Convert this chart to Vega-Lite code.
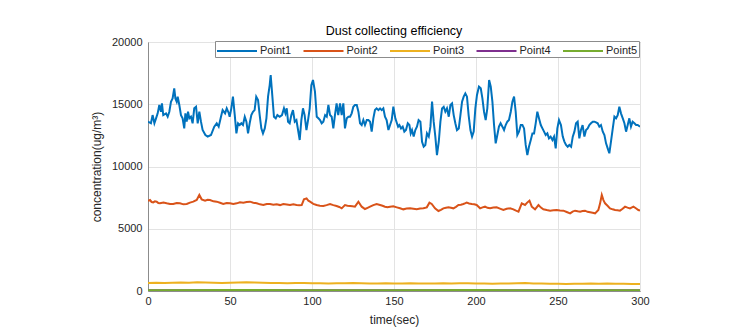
{
"$schema": "https://vega.github.io/schema/vega-lite/v6.json",
"width": 492, "height": 249,
"autosize": {"type": "none"},
"padding": {"left": 148, "top": 42, "right": 92, "bottom": 42},
"background": "white",
"title": {"text": "Dust collecting efficiency", "fontSize": 12.5, "fontWeight": "normal", "font": "Liberation Sans", "color": "#000000", "offset": -1, "anchor": "middle"},
"config": {
  "font": "Liberation Sans",
  "view": {"stroke": "#8c8c8c", "strokeWidth": 1},
  "axis": {"labelFont": "Liberation Sans", "titleFont": "Liberation Sans", "labelFontSize": 11, "titleFontSize": 12, "titleFontWeight": "normal", "labelColor": "#262626", "titleColor": "#262626", "gridColor": "#e3e3e3", "domainColor": "#8c8c8c", "tickColor": "#8c8c8c", "tickSize": 3, "ticks": false}
},
"data": {"values": [
{"s":"Point1","t":0,"v":13600},{"s":"Point1","t":1.8,"v":13470},{"s":"Point1","t":2.8,"v":14130},{"s":"Point1","t":3.9,"v":13470},{"s":"Point1","t":4.9,"v":13870},{"s":"Point1","t":5.9,"v":14270},{"s":"Point1","t":6.9,"v":14940},{"s":"Point1","t":7.9,"v":14400},{"s":"Point1","t":8.5,"v":15070},{"s":"Point1","t":9.3,"v":14130},{"s":"Point1","t":11,"v":14270},{"s":"Point1","t":12,"v":14000},{"s":"Point1","t":13,"v":14400},{"s":"Point1","t":14,"v":15200},{"s":"Point1","t":15,"v":15470},{"s":"Point1","t":16,"v":16280},{"s":"Point1","t":16.7,"v":15470},{"s":"Point1","t":17.5,"v":15200},{"s":"Point1","t":18.1,"v":15600},{"s":"Point1","t":19.1,"v":14940},{"s":"Point1","t":20.1,"v":14130},{"s":"Point1","t":21.1,"v":13870},{"s":"Point1","t":22.1,"v":13060},{"s":"Point1","t":22.8,"v":14270},{"s":"Point1","t":23.6,"v":13600},{"s":"Point1","t":24.4,"v":14400},{"s":"Point1","t":25.2,"v":13870},{"s":"Point1","t":26.2,"v":14000},{"s":"Point1","t":27.2,"v":13470},{"s":"Point1","t":28.2,"v":14670},{"s":"Point1","t":29.3,"v":14800},{"s":"Point1","t":30.3,"v":13470},{"s":"Point1","t":31.3,"v":14400},{"s":"Point1","t":32.3,"v":13600},{"s":"Point1","t":33.3,"v":12930},{"s":"Point1","t":35,"v":12530},{"s":"Point1","t":36.4,"v":12400},{"s":"Point1","t":38.4,"v":12530},{"s":"Point1","t":40.4,"v":13200},{"s":"Point1","t":41.9,"v":13470},{"s":"Point1","t":43.1,"v":13200},{"s":"Point1","t":44.5,"v":14000},{"s":"Point1","t":45.5,"v":14530},{"s":"Point1","t":47,"v":14270},{"s":"Point1","t":48,"v":14670},{"s":"Point1","t":49.2,"v":14300},{"s":"Point1","t":49.8,"v":14000},{"s":"Point1","t":50.8,"v":14670},{"s":"Point1","t":51.8,"v":15610},{"s":"Point1","t":52.9,"v":14130},{"s":"Point1","t":53.9,"v":12660},{"s":"Point1","t":54.9,"v":13470},{"s":"Point1","t":55.9,"v":13330},{"s":"Point1","t":56.9,"v":13470},{"s":"Point1","t":57.9,"v":13330},{"s":"Point1","t":59,"v":14000},{"s":"Point1","t":60,"v":13600},{"s":"Point1","t":61,"v":12660},{"s":"Point1","t":62,"v":13470},{"s":"Point1","t":63,"v":14130},{"s":"Point1","t":64,"v":14400},{"s":"Point1","t":65,"v":14530},{"s":"Point1","t":66,"v":15610},{"s":"Point1","t":67.1,"v":15340},{"s":"Point1","t":68.1,"v":14130},{"s":"Point1","t":69.1,"v":13060},{"s":"Point1","t":70.1,"v":12660},{"s":"Point1","t":71.2,"v":13060},{"s":"Point1","t":72.2,"v":13870},{"s":"Point1","t":73.2,"v":15610},{"s":"Point1","t":74.2,"v":16540},{"s":"Point1","t":74.8,"v":17350},{"s":"Point1","t":75.6,"v":16010},{"s":"Point1","t":76.8,"v":14000},{"s":"Point1","t":77.9,"v":13870},{"s":"Point1","t":78.9,"v":14130},{"s":"Point1","t":80.3,"v":14000},{"s":"Point1","t":81.7,"v":14130},{"s":"Point1","t":82.9,"v":14670},{"s":"Point1","t":83.8,"v":14270},{"s":"Point1","t":84.6,"v":14670},{"s":"Point1","t":85.4,"v":13600},{"s":"Point1","t":86.4,"v":13470},{"s":"Point1","t":87.4,"v":14130},{"s":"Point1","t":88.4,"v":14530},{"s":"Point1","t":89.5,"v":13600},{"s":"Point1","t":90.5,"v":13730},{"s":"Point1","t":91.5,"v":12930},{"s":"Point1","t":92.5,"v":12130},{"s":"Point1","t":93.5,"v":13730},{"s":"Point1","t":94.5,"v":14670},{"s":"Point1","t":95.5,"v":14130},{"s":"Point1","t":96.6,"v":12930},{"s":"Point1","t":97.6,"v":13730},{"s":"Point1","t":98.6,"v":14670},{"s":"Point1","t":99.6,"v":16540},{"s":"Point1","t":100.6,"v":16950},{"s":"Point1","t":101.8,"v":16010},{"s":"Point1","t":102.9,"v":14000},{"s":"Point1","t":103.9,"v":13870},{"s":"Point1","t":104.9,"v":13730},{"s":"Point1","t":105.9,"v":13470},{"s":"Point1","t":106.9,"v":13600},{"s":"Point1","t":108,"v":14130},{"s":"Point1","t":109,"v":14000},{"s":"Point1","t":110,"v":14940},{"s":"Point1","t":111,"v":14130},{"s":"Point1","t":112,"v":14000},{"s":"Point1","t":113,"v":13060},{"s":"Point1","t":114,"v":14130},{"s":"Point1","t":115,"v":15070},{"s":"Point1","t":116,"v":14130},{"s":"Point1","t":117.1,"v":15070},{"s":"Point1","t":118.1,"v":14130},{"s":"Point1","t":119.1,"v":15070},{"s":"Point1","t":120.1,"v":13060},{"s":"Point1","t":121.2,"v":13870},{"s":"Point1","t":122.2,"v":14000},{"s":"Point1","t":123.2,"v":14000},{"s":"Point1","t":124.2,"v":14270},{"s":"Point1","t":125.2,"v":14800},{"s":"Point1","t":126.2,"v":14940},{"s":"Point1","t":127.3,"v":14940},{"s":"Point1","t":128.3,"v":14400},{"s":"Point1","t":129.3,"v":13470},{"s":"Point1","t":130.3,"v":13330},{"s":"Point1","t":131.3,"v":13730},{"s":"Point1","t":132.3,"v":13330},{"s":"Point1","t":133.4,"v":13730},{"s":"Point1","t":134.4,"v":13730},{"s":"Point1","t":135.4,"v":13600},{"s":"Point1","t":136.4,"v":12800},{"s":"Point1","t":137.4,"v":13870},{"s":"Point1","t":138.4,"v":14530},{"s":"Point1","t":139.4,"v":14670},{"s":"Point1","t":140.5,"v":14530},{"s":"Point1","t":141.5,"v":14670},{"s":"Point1","t":142.5,"v":14530},{"s":"Point1","t":143.5,"v":14670},{"s":"Point1","t":144.5,"v":14000},{"s":"Point1","t":145.5,"v":13730},{"s":"Point1","t":146.6,"v":12930},{"s":"Point1","t":147.6,"v":13330},{"s":"Point1","t":148.6,"v":13730},{"s":"Point1","t":149.6,"v":14800},{"s":"Point1","t":150.8,"v":13870},{"s":"Point1","t":151.8,"v":13470},{"s":"Point1","t":152.5,"v":13200},{"s":"Point1","t":153.3,"v":13330},{"s":"Point1","t":154.3,"v":13060},{"s":"Point1","t":155.3,"v":13200},{"s":"Point1","t":156.3,"v":12800},{"s":"Point1","t":157.3,"v":12930},{"s":"Point1","t":158.4,"v":13470},{"s":"Point1","t":159.4,"v":13330},{"s":"Point1","t":160.2,"v":12660},{"s":"Point1","t":161,"v":12930},{"s":"Point1","t":162,"v":12400},{"s":"Point1","t":163,"v":12930},{"s":"Point1","t":164,"v":13200},{"s":"Point1","t":165,"v":13730},{"s":"Point1","t":166.1,"v":13600},{"s":"Point1","t":167.1,"v":11990},{"s":"Point1","t":168.1,"v":11590},{"s":"Point1","t":169.1,"v":11730},{"s":"Point1","t":170.1,"v":12660},{"s":"Point1","t":171.2,"v":12400},{"s":"Point1","t":172.2,"v":13200},{"s":"Point1","t":173.2,"v":15210},{"s":"Point1","t":174.2,"v":13600},{"s":"Point1","t":175.2,"v":12400},{"s":"Point1","t":176.2,"v":10920},{"s":"Point1","t":177.3,"v":11990},{"s":"Point1","t":178.3,"v":13600},{"s":"Point1","t":179.3,"v":14670},{"s":"Point1","t":180.3,"v":14800},{"s":"Point1","t":181.3,"v":14400},{"s":"Point1","t":182.3,"v":14670},{"s":"Point1","t":183.4,"v":14000},{"s":"Point1","t":184.4,"v":14940},{"s":"Point1","t":185.4,"v":15070},{"s":"Point1","t":186.4,"v":14130},{"s":"Point1","t":187.4,"v":13470},{"s":"Point1","t":188.4,"v":12930},{"s":"Point1","t":189.5,"v":13060},{"s":"Point1","t":190.5,"v":14130},{"s":"Point1","t":191.5,"v":15210},{"s":"Point1","t":192.5,"v":15610},{"s":"Point1","t":193.5,"v":15870},{"s":"Point1","t":194.5,"v":15610},{"s":"Point1","t":195.5,"v":14130},{"s":"Point1","t":196.6,"v":12930},{"s":"Point1","t":197.6,"v":12400},{"s":"Point1","t":198.6,"v":12800},{"s":"Point1","t":199.6,"v":14670},{"s":"Point1","t":200.6,"v":15750},{"s":"Point1","t":201.8,"v":16410},{"s":"Point1","t":202.9,"v":16280},{"s":"Point1","t":203.9,"v":15470},{"s":"Point1","t":204.9,"v":14400},{"s":"Point1","t":205.9,"v":13730},{"s":"Point1","t":206.9,"v":14670},{"s":"Point1","t":208,"v":16950},{"s":"Point1","t":209,"v":16410},{"s":"Point1","t":210,"v":15210},{"s":"Point1","t":211,"v":13330},{"s":"Point1","t":212,"v":11860},{"s":"Point1","t":213,"v":12530},{"s":"Point1","t":214,"v":13200},{"s":"Point1","t":215,"v":13470},{"s":"Point1","t":216.1,"v":13200},{"s":"Point1","t":217.1,"v":12930},{"s":"Point1","t":218.1,"v":13330},{"s":"Point1","t":219.1,"v":13600},{"s":"Point1","t":220.1,"v":13730},{"s":"Point1","t":221.2,"v":14400},{"s":"Point1","t":222.2,"v":15210},{"s":"Point1","t":223.2,"v":15610},{"s":"Point1","t":224.2,"v":14400},{"s":"Point1","t":225.2,"v":12530},{"s":"Point1","t":226.2,"v":12800},{"s":"Point1","t":227.3,"v":13330},{"s":"Point1","t":228.3,"v":13330},{"s":"Point1","t":229.3,"v":13060},{"s":"Point1","t":230.3,"v":11730},{"s":"Point1","t":231.3,"v":10920},{"s":"Point1","t":232.3,"v":11590},{"s":"Point1","t":233.4,"v":12130},{"s":"Point1","t":234.4,"v":12660},{"s":"Point1","t":235.4,"v":12660},{"s":"Point1","t":236.4,"v":13470},{"s":"Point1","t":237.4,"v":14400},{"s":"Point1","t":238.4,"v":13870},{"s":"Point1","t":239.5,"v":13330},{"s":"Point1","t":240.5,"v":13060},{"s":"Point1","t":241.5,"v":12800},{"s":"Point1","t":242.5,"v":12530},{"s":"Point1","t":243.5,"v":12660},{"s":"Point1","t":244.5,"v":12260},{"s":"Point1","t":245.5,"v":12400},{"s":"Point1","t":246.6,"v":12130},{"s":"Point1","t":247.6,"v":12400},{"s":"Point1","t":248.6,"v":11460},{"s":"Point1","t":249.6,"v":13060},{"s":"Point1","t":250.6,"v":13730},{"s":"Point1","t":251.8,"v":13330},{"s":"Point1","t":252.9,"v":12400},{"s":"Point1","t":253.9,"v":12000},{"s":"Point1","t":254.9,"v":11730},{"s":"Point1","t":255.9,"v":11590},{"s":"Point1","t":256.9,"v":11730},{"s":"Point1","t":258,"v":11590},{"s":"Point1","t":259,"v":12400},{"s":"Point1","t":260,"v":12800},{"s":"Point1","t":261,"v":13470},{"s":"Point1","t":262,"v":13600},{"s":"Point1","t":263,"v":12260},{"s":"Point1","t":264,"v":12930},{"s":"Point1","t":265,"v":13330},{"s":"Point1","t":266.1,"v":12400},{"s":"Point1","t":267.1,"v":12930},{"s":"Point1","t":268.1,"v":13060},{"s":"Point1","t":269.1,"v":13330},{"s":"Point1","t":270.1,"v":13470},{"s":"Point1","t":271.2,"v":13600},{"s":"Point1","t":272.2,"v":13600},{"s":"Point1","t":273.2,"v":13550},{"s":"Point1","t":274.2,"v":13470},{"s":"Point1","t":275.2,"v":13200},{"s":"Point1","t":276.2,"v":13330},{"s":"Point1","t":277.3,"v":12800},{"s":"Point1","t":278.3,"v":12530},{"s":"Point1","t":279.3,"v":11860},{"s":"Point1","t":280.3,"v":11460},{"s":"Point1","t":281.3,"v":11060},{"s":"Point1","t":282.3,"v":12000},{"s":"Point1","t":283.4,"v":13060},{"s":"Point1","t":284.4,"v":14000},{"s":"Point1","t":285.4,"v":13870},{"s":"Point1","t":286.4,"v":14130},{"s":"Point1","t":287.4,"v":14800},{"s":"Point1","t":288.4,"v":14270},{"s":"Point1","t":289.5,"v":13870},{"s":"Point1","t":290.5,"v":13470},{"s":"Point1","t":291.5,"v":12800},{"s":"Point1","t":292.5,"v":13330},{"s":"Point1","t":293.5,"v":13870},{"s":"Point1","t":294.5,"v":13200},{"s":"Point1","t":295.5,"v":13600},{"s":"Point1","t":296.6,"v":13470},{"s":"Point1","t":297.6,"v":13330},{"s":"Point1","t":298.6,"v":13330},{"s":"Point1","t":300,"v":13200},
{"s":"Point2","t":0,"v":7250},{"s":"Point2","t":1.2,"v":7310},{"s":"Point2","t":2.2,"v":7150},{"s":"Point2","t":3.2,"v":7120},{"s":"Point2","t":4.2,"v":7200},{"s":"Point2","t":5.3,"v":7175},{"s":"Point2","t":6.3,"v":7060},{"s":"Point2","t":7.3,"v":7041},{"s":"Point2","t":9.4,"v":7100},{"s":"Point2","t":11.4,"v":7041},{"s":"Point2","t":13.4,"v":6990},{"s":"Point2","t":15.4,"v":6988},{"s":"Point2","t":17.5,"v":7060},{"s":"Point2","t":19.5,"v":7041},{"s":"Point2","t":21.6,"v":6960},{"s":"Point2","t":23.6,"v":6988},{"s":"Point2","t":25.6,"v":7100},{"s":"Point2","t":27.6,"v":7175},{"s":"Point2","t":29.7,"v":7309},{"s":"Point2","t":31.3,"v":7710},{"s":"Point2","t":32.7,"v":7362},{"s":"Point2","t":34.8,"v":7255},{"s":"Point2","t":36.3,"v":7330},{"s":"Point2","t":37.8,"v":7309},{"s":"Point2","t":39.9,"v":7200},{"s":"Point2","t":41.9,"v":7175},{"s":"Point2","t":43.9,"v":7090},{"s":"Point2","t":45.9,"v":6988},{"s":"Point2","t":48,"v":7060},{"s":"Point2","t":50,"v":7041},{"s":"Point2","t":52,"v":6990},{"s":"Point2","t":54.1,"v":7041},{"s":"Point2","t":56.1,"v":7120},{"s":"Point2","t":58.1,"v":7095},{"s":"Point2","t":60.2,"v":7150},{"s":"Point2","t":62.2,"v":7175},{"s":"Point2","t":64.2,"v":7090},{"s":"Point2","t":66.3,"v":7041},{"s":"Point2","t":68.3,"v":6960},{"s":"Point2","t":70.3,"v":6907},{"s":"Point2","t":72.4,"v":6990},{"s":"Point2","t":74.4,"v":6988},{"s":"Point2","t":76.4,"v":6930},{"s":"Point2","t":78.5,"v":6961},{"s":"Point2","t":80.5,"v":6900},{"s":"Point2","t":82.5,"v":6988},{"s":"Point2","t":84.6,"v":6950},{"s":"Point2","t":86.6,"v":6907},{"s":"Point2","t":88.6,"v":6960},{"s":"Point2","t":90.6,"v":6907},{"s":"Point2","t":92.2,"v":6880},{"s":"Point2","t":93.7,"v":6907},{"s":"Point2","t":95.1,"v":7362},{"s":"Point2","t":96.7,"v":7443},{"s":"Point2","t":97.8,"v":7250},{"s":"Point2","t":98.8,"v":7175},{"s":"Point2","t":100.8,"v":7000},{"s":"Point2","t":102.8,"v":6907},{"s":"Point2","t":104.8,"v":6850},{"s":"Point2","t":106.9,"v":6827},{"s":"Point2","t":108.9,"v":6900},{"s":"Point2","t":111,"v":6988},{"s":"Point2","t":113,"v":6900},{"s":"Point2","t":115,"v":6827},{"s":"Point2","t":116.6,"v":6750},{"s":"Point2","t":118.1,"v":6640},{"s":"Point2","t":120.1,"v":6907},{"s":"Point2","t":121.6,"v":6850},{"s":"Point2","t":123.2,"v":6827},{"s":"Point2","t":124.7,"v":6800},{"s":"Point2","t":126.2,"v":6773},{"s":"Point2","t":128.3,"v":7175},{"s":"Point2","t":130.3,"v":6773},{"s":"Point2","t":132.3,"v":6586},{"s":"Point2","t":133.9,"v":6680},{"s":"Point2","t":135.4,"v":6773},{"s":"Point2","t":137.4,"v":6900},{"s":"Point2","t":139.4,"v":6988},{"s":"Point2","t":141.5,"v":6907},{"s":"Point2","t":143,"v":6850},{"s":"Point2","t":144.5,"v":6773},{"s":"Point2","t":146,"v":6720},{"s":"Point2","t":147.6,"v":6773},{"s":"Point2","t":149.6,"v":6800},{"s":"Point2","t":151.7,"v":6720},{"s":"Point2","t":153.7,"v":6650},{"s":"Point2","t":155.7,"v":6559},{"s":"Point2","t":157.7,"v":6620},{"s":"Point2","t":159.8,"v":6640},{"s":"Point2","t":161.8,"v":6600},{"s":"Point2","t":163.9,"v":6559},{"s":"Point2","t":165.9,"v":6620},{"s":"Point2","t":167.9,"v":6640},{"s":"Point2","t":170,"v":6720},{"s":"Point2","t":171.6,"v":7095},{"s":"Point2","t":173,"v":6988},{"s":"Point2","t":175,"v":6640},{"s":"Point2","t":177.1,"v":6425},{"s":"Point2","t":178.6,"v":6520},{"s":"Point2","t":180.1,"v":6640},{"s":"Point2","t":181.7,"v":6690},{"s":"Point2","t":183.2,"v":6720},{"s":"Point2","t":184.7,"v":6680},{"s":"Point2","t":186.2,"v":6640},{"s":"Point2","t":187.8,"v":6760},{"s":"Point2","t":189.3,"v":6907},{"s":"Point2","t":190.8,"v":6930},{"s":"Point2","t":192.3,"v":6988},{"s":"Point2","t":193.3,"v":7041},{"s":"Point2","t":194.3,"v":7095},{"s":"Point2","t":195.8,"v":7030},{"s":"Point2","t":197.4,"v":6988},{"s":"Point2","t":198.9,"v":6960},{"s":"Point2","t":200.4,"v":6907},{"s":"Point2","t":202.5,"v":6640},{"s":"Point2","t":204,"v":6720},{"s":"Point2","t":205.5,"v":6773},{"s":"Point2","t":207,"v":6680},{"s":"Point2","t":208.6,"v":6640},{"s":"Point2","t":210.6,"v":6700},{"s":"Point2","t":212.6,"v":6720},{"s":"Point2","t":214.6,"v":6620},{"s":"Point2","t":216.7,"v":6506},{"s":"Point2","t":218.7,"v":6600},{"s":"Point2","t":220.8,"v":6640},{"s":"Point2","t":222.8,"v":6560},{"s":"Point2","t":224.4,"v":6450},{"s":"Point2","t":225.9,"v":6372},{"s":"Point2","t":227.9,"v":7041},{"s":"Point2","t":229.9,"v":6907},{"s":"Point2","t":231.2,"v":7100},{"s":"Point2","t":232.6,"v":7255},{"s":"Point2","t":234,"v":6773},{"s":"Point2","t":236,"v":6559},{"s":"Point2","t":238.1,"v":6907},{"s":"Point2","t":239.6,"v":6700},{"s":"Point2","t":241.1,"v":6559},{"s":"Point2","t":243.1,"v":6500},{"s":"Point2","t":245.2,"v":6452},{"s":"Point2","t":247.2,"v":6480},{"s":"Point2","t":249.2,"v":6506},{"s":"Point2","t":251.2,"v":6470},{"s":"Point2","t":253.3,"v":6452},{"s":"Point2","t":255.3,"v":6350},{"s":"Point2","t":257.4,"v":6238},{"s":"Point2","t":258.9,"v":6380},{"s":"Point2","t":260.4,"v":6452},{"s":"Point2","t":262,"v":6400},{"s":"Point2","t":263.5,"v":6372},{"s":"Point2","t":265,"v":6420},{"s":"Point2","t":266.5,"v":6452},{"s":"Point2","t":268,"v":6360},{"s":"Point2","t":269.6,"v":6318},{"s":"Point2","t":271.1,"v":6280},{"s":"Point2","t":272.6,"v":6238},{"s":"Point2","t":274.6,"v":6506},{"s":"Point2","t":275.6,"v":7000},{"s":"Point2","t":276.7,"v":7710},{"s":"Point2","t":277.7,"v":7300},{"s":"Point2","t":278.7,"v":7041},{"s":"Point2","t":280.2,"v":6850},{"s":"Point2","t":281.7,"v":6640},{"s":"Point2","t":283.3,"v":6560},{"s":"Point2","t":284.8,"v":6506},{"s":"Point2","t":286.3,"v":6480},{"s":"Point2","t":287.8,"v":6452},{"s":"Point2","t":289.4,"v":6600},{"s":"Point2","t":290.9,"v":6773},{"s":"Point2","t":292.4,"v":6700},{"s":"Point2","t":293.9,"v":6640},{"s":"Point2","t":296,"v":6773},{"s":"Point2","t":297.5,"v":6650},{"s":"Point2","t":299,"v":6506},{"s":"Point2","t":300,"v":6450},
{"s":"Point3","t":0,"v":640},{"s":"Point3","t":5,"v":660},{"s":"Point3","t":10,"v":650},{"s":"Point3","t":15,"v":670},{"s":"Point3","t":20,"v":680},{"s":"Point3","t":25,"v":660},{"s":"Point3","t":30,"v":700},{"s":"Point3","t":35,"v":690},{"s":"Point3","t":40,"v":670},{"s":"Point3","t":45,"v":650},{"s":"Point3","t":50,"v":660},{"s":"Point3","t":55,"v":680},{"s":"Point3","t":60,"v":710},{"s":"Point3","t":65,"v":690},{"s":"Point3","t":70,"v":670},{"s":"Point3","t":75,"v":650},{"s":"Point3","t":80,"v":640},{"s":"Point3","t":85,"v":630},{"s":"Point3","t":90,"v":650},{"s":"Point3","t":95,"v":640},{"s":"Point3","t":100,"v":620},{"s":"Point3","t":105,"v":630},{"s":"Point3","t":110,"v":610},{"s":"Point3","t":115,"v":630},{"s":"Point3","t":120,"v":620},{"s":"Point3","t":125,"v":640},{"s":"Point3","t":130,"v":630},{"s":"Point3","t":135,"v":610},{"s":"Point3","t":140,"v":600},{"s":"Point3","t":145,"v":620},{"s":"Point3","t":150,"v":600},{"s":"Point3","t":155,"v":610},{"s":"Point3","t":160,"v":620},{"s":"Point3","t":165,"v":600},{"s":"Point3","t":170,"v":610},{"s":"Point3","t":175,"v":600},{"s":"Point3","t":180,"v":620},{"s":"Point3","t":185,"v":610},{"s":"Point3","t":190,"v":630},{"s":"Point3","t":195,"v":620},{"s":"Point3","t":200,"v":600},{"s":"Point3","t":205,"v":610},{"s":"Point3","t":210,"v":590},{"s":"Point3","t":215,"v":600},{"s":"Point3","t":220,"v":610},{"s":"Point3","t":225,"v":620},{"s":"Point3","t":230,"v":640},{"s":"Point3","t":235,"v":610},{"s":"Point3","t":240,"v":600},{"s":"Point3","t":245,"v":580},{"s":"Point3","t":250,"v":590},{"s":"Point3","t":255,"v":570},{"s":"Point3","t":260,"v":580},{"s":"Point3","t":265,"v":590},{"s":"Point3","t":270,"v":600},{"s":"Point3","t":275,"v":590},{"s":"Point3","t":280,"v":600},{"s":"Point3","t":285,"v":590},{"s":"Point3","t":290,"v":580},{"s":"Point3","t":295,"v":570},{"s":"Point3","t":300,"v":560},
{"s":"Point4","t":0,"v":60},{"s":"Point4","t":50,"v":62},{"s":"Point4","t":100,"v":58},{"s":"Point4","t":150,"v":60},{"s":"Point4","t":200,"v":61},{"s":"Point4","t":250,"v":59},{"s":"Point4","t":300,"v":60},
{"s":"Point5","t":0,"v":70},{"s":"Point5","t":50,"v":72},{"s":"Point5","t":100,"v":68},{"s":"Point5","t":150,"v":70},{"s":"Point5","t":200,"v":71},{"s":"Point5","t":250,"v":69},{"s":"Point5","t":300,"v":70}
]},
"mark": {"type": "line", "strokeWidth": 2, "clip": true},
"encoding": {
  "x": {"field": "t", "type": "quantitative", "title": "time(sec)", "scale": {"domain": [0, 300], "nice": false}, "axis": {"values": [0, 50, 100, 150, 200, 250, 300], "labelPadding": 4, "titlePadding": 8, "labelFlush": false}},
  "y": {"field": "v", "type": "quantitative", "title": "concentration(ug/m³)", "scale": {"domain": [0, 20000], "nice": false}, "axis": {"values": [0, 5000, 10000, 15000, 20000], "labelPadding": 6, "titlePadding": 8, "format": "d"}},
  "color": {"field": "s", "type": "nominal", "title": null,
    "scale": {"domain": ["Point1", "Point2", "Point3", "Point4", "Point5"], "range": ["#0072BD", "#D95319", "#EDB120", "#7E2F8E", "#77AC30"]},
    "legend": {"orient": "none", "legendX": 67, "legendY": -1, "direction": "horizontal", "symbolType": "M-1,0L4,0", "symbolSize": 256, "symbolStrokeWidth": 2, "labelFontSize": 11, "labelFont": "Liberation Sans", "labelColor": "#262626", "labelOffset": 26, "columnPadding": 7.5, "padding": 1, "strokeColor": "#8c8c8c", "fillColor": "white"}
  }
}
}
